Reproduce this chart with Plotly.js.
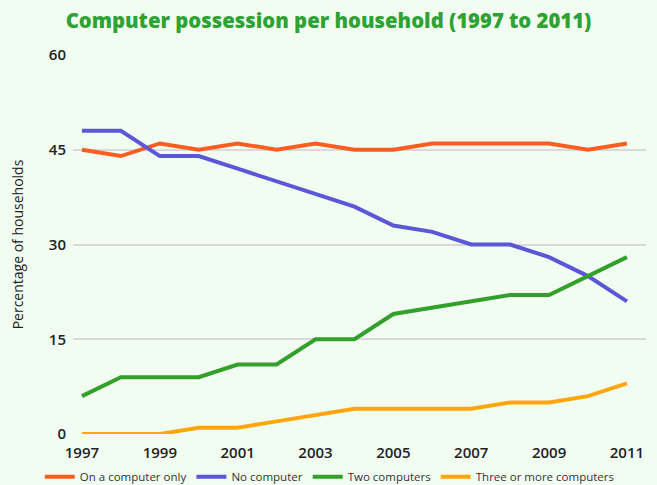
<!DOCTYPE html>
<html><head><meta charset="utf-8">
<script src="https://cdn.plot.ly/plotly-3.0.1.min.js"></script>
<style>html,body{margin:0;padding:0;background:#f2fdf2;}</style>
</head><body>
<div id="chart" style="width:657px;height:485px;"></div>
<script>
const years = [1997,1998,1999,2000,2001,2002,2003,2004,2005,2006,2007,2008,2009,2010,2011];
const seriesNames = ["On a computer only","No computer","Two computers","Three or more computers"];
const onComputerOnly = [45,44,46,45,46,45,46,45,45,46,46,46,46,45,46];
const noComputer = [48,48,44,44,42,40,38,36,33,32,30,30,28,25,21];
const twoComputers = [6,9,9,9,11,11,15,15,19,20,21,22,22,25,28];
const threeOrMore = [0,0,0,1,1,2,3,4,4,4,4,5,5,6,8];
const colors = ["#f95d22","#5b57d6","#33a02c","#ffa60d"];
const xTicks = [1997,1999,2001,2003,2005,2007,2009,2011];
const yTicks = [0,15,30,45,60];

const allValues = [onComputerOnly, noComputer, twoComputers, threeOrMore];
const traces = allValues.map((v,i)=>({
  x: years, y: v, name: seriesNames[i], type:'scatter', mode:'lines',
  line:{color:colors[i], width:4}
}));
const layout = {
  width:657, height:485,
  paper_bgcolor:'#f2fdf2', plot_bgcolor:'#f2fdf2',
  margin:{l:73,r:11,t:55,b:51,autoexpand:false},
  title:{text:'Computer possession per household (1997 to 2011)', x:0.5, xanchor:'center', y:0.957, yanchor:'middle',
    font:{family:'"Open Sans", sans-serif', size:20.3, weight:800, color:'#2ea334'}},
  font:{family:'"Open Sans", sans-serif', color:'#222'},
  xaxis:{range:[1996.77,2011.49], tickvals:xTicks, ticktext:xTicks.map(String), showgrid:false, zeroline:false,
    showline:false, ticks:'outside', ticklen:5, tickcolor:'rgba(0,0,0,0)', tickfont:{size:15, weight:600, color:'#222'}, automargin:false},
  yaxis:{range:[0,60], tickvals:yTicks, showgrid:true, gridcolor:'#d9d9d9', gridwidth:2, zeroline:false,
    ticks:'', ticklabelstandoff:6, tickfont:{size:15, weight:600, color:'#222'}, automargin:false,
    title:{text:'Percentage of households', font:{size:14, color:'#222'}, standoff:21}},
  showlegend:true,
  legend:{orientation:'h', x:-0.058, xanchor:'left', y:-0.113, yanchor:'middle',
    font:{size:11.5, color:'#333'}, bgcolor:'rgba(0,0,0,0)', itemwidth:30, tracegroupgap:0}
};
Plotly.newPlot('chart', traces, layout, {displayModeBar:false, staticPlot:true});
</script>
</body></html>
